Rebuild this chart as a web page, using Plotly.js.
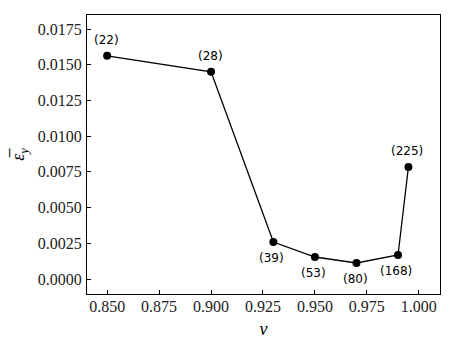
<!DOCTYPE html>
<html>
<head>
<meta charset="utf-8">
<script src="https://cdn.plot.ly/plotly-3.0.1.min.js"></script>
<style>
  html, body { margin: 0; padding: 0; background: white; }
  #plot { width: 455px; height: 350px; }
</style>
</head>
<body>
<div id="plot"></div>
<script>
// nu values, mean strain, and the count shown next to each point
const nu = [0.85, 0.90, 0.93, 0.95, 0.97, 0.99, 0.995];
const epsY = [0.01562, 0.01450, 0.00259, 0.00154, 0.00112, 0.00168, 0.00784];
const counts = [22, 28, 39, 53, 80, 168, 225];
const labelSide = ['above', 'above', 'below', 'below', 'below', 'below', 'above'];

const serif = "'Liberation Serif', serif";

const annotations = nu.map((x, i) => ({
  x: x, y: epsY[i], xref: 'x', yref: 'y',
  text: '(' + counts[i] + ')',
  showarrow: false,
  yshift: labelSide[i] === 'above' ? 16 : -16,
  xshift: labelSide[i] === 'below' && i !== 3 && i !== 4 ? -2 : -1,
  font: { family: "'DejaVu Sans', sans-serif", size: 12, color: 'black' }
}));

Plotly.newPlot('plot', [{
  x: nu, y: epsY,
  mode: 'lines+markers',
  line: { color: 'black', width: 1.3 },
  marker: { color: 'black', size: 8 },
  showlegend: false
}], {
  width: 455, height: 350,
  margin: { l: 87, r: 15, t: 15, b: 56 },
  plot_bgcolor: 'white', paper_bgcolor: 'white',
  font: { family: serif, size: 16, color: 'black' },
  annotations: annotations,
  xaxis: {
    range: [0.8403, 1.0102], dtick: 0.025, tick0: 0.85, tickformat: '.3f',
    ticks: 'inside', ticklen: 4, tickwidth: 1, tickcolor: 'black',
    showline: true, linecolor: 'black', linewidth: 1, mirror: true,
    showgrid: false, zeroline: false, ticklabelstandoff: -2,
    tickfont: { family: serif, size: 16, color: '#222' },
    title: { text: '<i>ν</i>', font: { family: serif, size: 18 }, standoff: 8 }
  },
  yaxis: {
    range: [-0.00105, 0.01848], dtick: 0.0025, tick0: 0, tickformat: '.4f',
    ticks: 'inside', ticklen: 4, tickwidth: 1, tickcolor: 'black',
    showline: true, linecolor: 'black', linewidth: 1, mirror: true,
    showgrid: false, zeroline: false, ticklabelstandoff: 1,
    tickfont: { family: serif, size: 16, color: '#222' },
    title: { text: '<i>ε̅</i><sub><i>y</i></sub>', font: { family: serif, size: 18 }, standoff: 8 }
  }
}, { displayModeBar: false, staticPlot: true });
</script>
</body>
</html>
